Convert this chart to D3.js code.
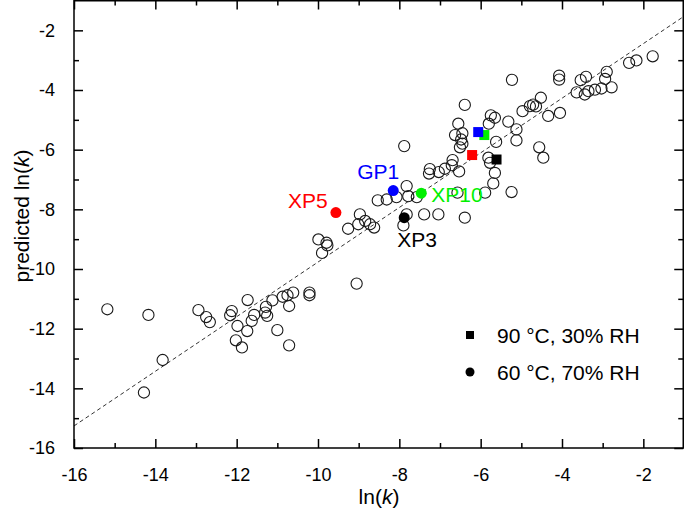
<!DOCTYPE html>
<html><head><meta charset="utf-8">
<script src="https://cdn.jsdelivr.net/npm/d3@7"></script>
<style>body{margin:0;background:#fff}svg{display:block}</style>
</head><body><svg id="c" width="685" height="514"></svg>
<script>
// ---- data ----
const openX = [-15.18,-14.17,-13.82,-14.28,-12.94,-12.75,-12.66,-12.12,-12.16,-11.73,-11.98,-11.74,-11.57,-11.63,-12.02,-11.87,-11.28,-11.30,-11.25,-11.12,-10.87,-10.75,-10.61,-10.71,-11.00,-10.71,-10.21,-10.21,-9.05,
 -9.99,-9.79,-9.77,-9.90,-8.97,-9.01,-9.26,-8.84,-8.72,-8.62,-8.53,-8.31,-8.07,-7.82,-7.78,-7.57,-7.82,-7.90,-7.39,-7.04,-6.39,-7.88,
 -7.27,-7.25,-7.03,-6.88,-6.71,-6.69,-6.53,-6.57,-6.51,-6.45,-6.48,-6.63,-6.45,-6.55,-6.39,-5.75,-5.65,-5.80,-5.62,-5.81,-5.77,-5.65,-5.69,-5.89,-5.24,
 -5.32,-5.12,-5.12,-4.97,-4.79,-4.71,-4.64,-4.52,-4.34,-4.05,-4.56,-4.46,-4.07,-4.07,-3.64,-3.54,-3.41,-3.44,-3.35,-3.19,-3.03,-2.78,-2.94,-2.90,-2.35,-2.17,-1.77,-5.23];
const openY = [-11.35,-11.54,-13.05,-14.14,-11.38,-11.61,-11.78,-11.41,-11.55,-11.04,-11.91,-12.08,-11.54,-11.74,-12.39,-12.63,-11.27,-11.46,-11.57,-11.05,-10.93,-10.88,-10.79,-11.24,-12.05,-12.56,-10.79,-10.88,-10.49,
 -9.01,-9.12,-9.21,-9.46,-8.17,-8.50,-8.65,-8.39,-8.50,-8.61,-7.70,-7.67,-7.59,-7.22,-7.56,-7.59,-8.17,-8.54,-8.17,-8.17,-8.28,-5.88,
 -6.80,-6.65,-6.75,-6.64,-6.52,-6.35,-6.73,-7.44,-5.92,-5.80,-5.66,-5.51,-5.45,-5.13,-4.50,-4.85,-4.93,-5.13,-5.74,-6.27,-6.44,-6.78,-7.13,-7.44,-7.42,
 -5.06,-5.32,-5.69,-4.71,-4.54,-4.49,-4.55,-4.26,-4.87,-4.77,-5.92,-6.27,-3.52,-3.65,-4.08,-3.67,-3.56,-4.15,-4.04,-3.99,-3.95,-3.91,-3.63,-3.39,-3.09,-3.01,-2.87,-3.66];

// 60 °C, 70% RH (circles), labelled
const circleNames  = ["XP5","GP1","XP10","XP3"];
const circleX      = [-9.56,-8.15,-7.46,-7.88];
const circleY      = [-8.11,-7.37,-7.46,-8.28];
const circleColors = ["#ff0000","#0000ff","#00f000","#000000"];

// 90 °C, 30% RH (squares)
const squareX      = [-5.91,-6.21,-5.61,-6.06];
const squareY      = [-5.51,-6.18,-6.33,-5.41];
const squareColors = ["#00f000","#ff0000","#000000","#0000ff"];

// fit line ends
const fitX = [-16,-1];
const fitY = [-15.26,-1.53];

const majorTicks = [-16,-14,-12,-10,-8,-6,-4,-2];
const minorTicks = [-15,-13,-11,-9,-7,-5,-3];
const legendLabels = ["90 \u00B0C, 30% RH","60 \u00B0C, 70% RH"];

// ---- drawing ----
const FONT = "'Liberation Sans', Arial, Helvetica, sans-serif";
const L = 74, R = 684, T = 0.5, B = 448;
const svg = d3.select("#c");
const x = d3.scaleLinear().domain([-16,-1]).range([L,R]);
const y = d3.scaleLinear().domain([-16,-1]).range([B,T]);
const fmt = d => String(d);

// fit line
svg.append("line")
  .attr("x1",x(fitX[0])).attr("y1",y(fitY[0]))
  .attr("x2",x(fitX[1])).attr("y2",y(fitY[1]))
  .attr("stroke","#333").attr("stroke-width",1).attr("stroke-dasharray","4,3");

// open circles
svg.append("g").selectAll("circle").data(d3.range(openX.length)).join("circle")
  .attr("cx",i=>x(openX[i])).attr("cy",i=>y(openY[i])).attr("r",5.6)
  .attr("fill","none").attr("stroke","#1a1a1a").attr("stroke-width",1.1);

// squares
const sq = 10;
svg.append("g").selectAll("rect").data(d3.range(squareX.length)).join("rect")
  .attr("x",i=>x(squareX[i])-sq/2).attr("y",i=>y(squareY[i])-sq/2)
  .attr("width",sq).attr("height",sq).attr("fill",i=>squareColors[i]);

// filled circles
svg.append("g").selectAll("circle").data(d3.range(circleX.length)).join("circle")
  .attr("cx",i=>x(circleX[i])).attr("cy",i=>y(circleY[i])).attr("r",5.5)
  .attr("fill",i=>circleColors[i]);

// labels for the circles (offsets are layout only)
const labelOffsets = [[-28,-5,"middle"],[-15,-12,"middle"],[10,9,"start"],[13,29,"middle"]];
svg.append("g").selectAll("text").data(d3.range(circleNames.length)).join("text")
  .attr("x",i=>x(circleX[i])+labelOffsets[i][0])
  .attr("y",i=>y(circleY[i])+labelOffsets[i][1])
  .attr("text-anchor",i=>labelOffsets[i][2])
  .attr("fill",i=>circleColors[i])
  .attr("font-family",FONT).attr("font-size",21)
  .text(i=>circleNames[i]);

// axes
function styleAxis(g){
  g.selectAll(".domain").remove();
  g.selectAll("line").attr("stroke","#000").attr("stroke-width",1.5);
  g.selectAll("text").attr("font-family",FONT).attr("font-size",18).attr("fill","#000");
}
const maj = 9, mnr = 5;
svg.append("g").attr("transform",`translate(0,${B})`)
  .call(d3.axisBottom(x).tickValues(majorTicks).tickSize(-maj).tickPadding(maj+11).tickFormat(fmt)).call(styleAxis);
svg.append("g").attr("transform",`translate(0,${B})`)
  .call(d3.axisBottom(x).tickValues(minorTicks).tickSize(-mnr).tickFormat("")).call(styleAxis);
svg.append("g").attr("transform",`translate(0,${T})`)
  .call(d3.axisTop(x).tickValues(majorTicks).tickSize(-maj).tickFormat("")).call(styleAxis);
svg.append("g").attr("transform",`translate(0,${T})`)
  .call(d3.axisTop(x).tickValues(minorTicks).tickSize(-mnr).tickFormat("")).call(styleAxis);
svg.append("g").attr("transform",`translate(${L},0)`)
  .call(d3.axisLeft(y).tickValues(majorTicks).tickSize(-maj).tickPadding(maj+10).tickFormat(fmt)).call(styleAxis);
svg.append("g").attr("transform",`translate(${L},0)`)
  .call(d3.axisLeft(y).tickValues(minorTicks).tickSize(-mnr).tickFormat("")).call(styleAxis);
svg.append("g").attr("transform",`translate(${R-0.75},0)`)
  .call(d3.axisRight(y).tickValues(majorTicks).tickSize(-maj).tickFormat("")).call(styleAxis);
svg.append("g").attr("transform",`translate(${R-0.75},0)`)
  .call(d3.axisRight(y).tickValues(minorTicks).tickSize(-mnr).tickFormat("")).call(styleAxis);

// frame
svg.append("rect").attr("x",L).attr("y",T+0.25).attr("width",R-L-0.75).attr("height",B-T-0.25)
  .attr("fill","none").attr("stroke","#000").attr("stroke-width",1.5);

// axis titles
const xt = svg.append("text").attr("x",(L+R)/2).attr("y",504).attr("text-anchor","middle")
  .attr("font-family",FONT).attr("font-size",21);
xt.append("tspan").text("ln(");
xt.append("tspan").attr("font-style","italic").text("k");
xt.append("tspan").text(")");
const yt = svg.append("text").attr("transform","translate(29,216) rotate(-90)").attr("text-anchor","middle")
  .attr("font-family",FONT).attr("font-size",21);
yt.append("tspan").text("predicted ln(");
yt.append("tspan").attr("font-style","italic").text("k");
yt.append("tspan").text(")");

// legend
const lg = svg.append("g").attr("font-family",FONT).attr("font-size",21);
const ly = [335, 372];
lg.append("rect").attr("x",470-4).attr("y",ly[0]-4).attr("width",8).attr("height",8).attr("fill","#000");
lg.append("circle").attr("cx",470).attr("cy",ly[1]).attr("r",4.5).attr("fill","#000");
lg.selectAll("text").data(legendLabels).join("text")
  .attr("x",497).attr("y",(d,i)=>ly[i]+7.5).text(d=>d);
</script></body></html>
